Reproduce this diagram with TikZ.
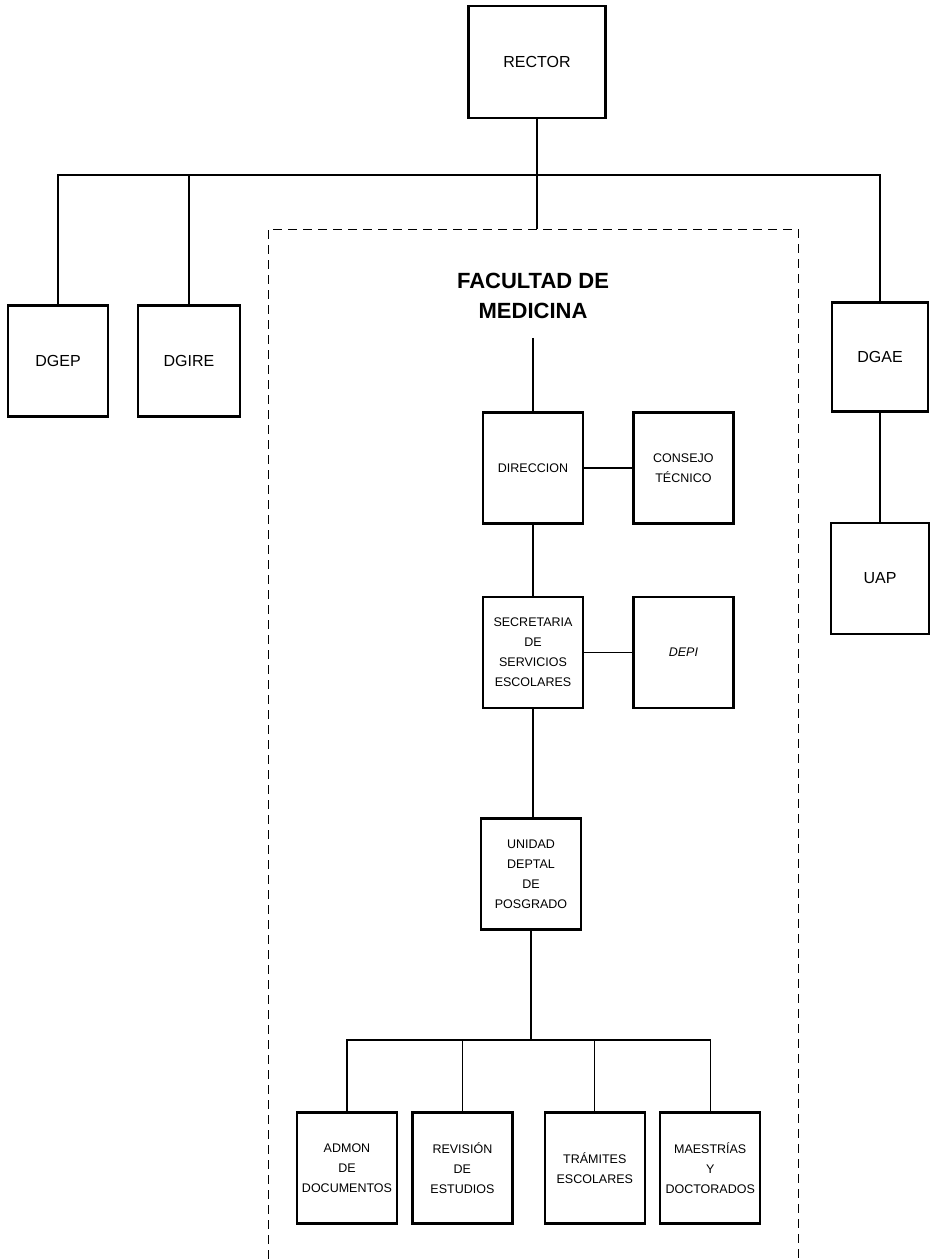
\documentclass[tikz,border=0pt]{standalone}
\usepackage{fontspec}
\setsansfont{Liberation Sans}
\usetikzlibrary{positioning}
\tikzset{
  unit/.style={rectangle, draw, line width=2.4bp, minimum width=100bp,
               minimum height=111bp, inner sep=1bp, align=center,
               font=\sffamily\fontsize{12.5bp}{20bp}\selectfont},
  head/.style={unit, font=\sffamily\fontsize{16bp}{20bp}\selectfont},
  conn/.style={line width=1.3bp},
  frame/.style={line width=0.8bp, dash pattern=on 9bp off 6bp},
}

\begin{document}
\begin{tikzpicture}[
  x=1bp, y=-1bp,
  title/.style={font=\sffamily\bfseries\fontsize{22bp}{30bp}\selectfont, align=center, inner ysep=19bp}
]
  \useasboundingbox (0,0) rectangle (930,1259);
  \draw[frame] (268,1259) -- (268,229) -- (798,229) -- (798,1259);

  \node[head, minimum width=137bp, minimum height=112bp] (rector) at (537,62) {RECTOR};
  \node[head] (dgep) at (58,361) {DGEP};
  \node[head, minimum width=102bp] (dgire) at (189,361) {DGIRE};
  \node[head, minimum width=96bp, minimum height=109bp] (dgae) at (880,357) {DGAE};
  \node[head, minimum width=98bp, below=109bp of dgae] (uap) {UAP};

  \node[title] (fac) at (533,296) {FACULTAD DE\\MEDICINA};
  \node[unit] (direccion) at (533,468) {DIRECCION};
  \node[unit, right=48bp of direccion] (consejo) {CONSEJO\\TÉCNICO};
  \node[unit, below=71bp of direccion] (secretaria) {SECRETARIA\\DE\\SERVICIOS\\ESCOLARES};
  \node[unit, right=48bp of secretaria] (depi) {\itshape DEPI};
  \node[unit, below=108bp of secretaria, xshift=-2bp] (unidad) {UNIDAD\\DEPTAL\\DE\\POSGRADO};

  \node[unit] (admon) at (347,1168) {ADMON\\DE\\DOCUMENTOS};
  \node[unit, right=13bp of admon] (revision) {REVISIÓN\\DE\\ESTUDIOS};
  \node[unit, right=30bp of revision] (tramites) {TRÁMITES\\ESCOLARES};
  \node[unit, right=13bp of tramites] (maestrias) {MAESTRÍAS\\Y\\DOCTORADOS};

  \coordinate (bus) at (537,175);
  \coordinate (frametop) at (537,229);
  \coordinate (rama) at (531,1040);

  \draw[conn] (rector.south) -- (frametop);
  \draw[conn] (dgep.north) |- (bus) -| (dgae.north);
  \draw[conn] (dgire.north) -- (dgire.north |- bus);
  \draw[conn] (dgae) -- (uap);

  \draw[conn] (fac.south -| direccion.north) -- (direccion.north);
  \draw[conn] (direccion) -- (consejo);
  \draw[conn] (direccion) -- (secretaria);
  \draw[conn] (secretaria) -- (depi);
  \draw[conn] (secretaria.south) -- (secretaria.south |- unidad.north);
  \draw[conn] (unidad.south) -- (unidad.south |- rama);
  \draw[conn] (admon.north) |- (rama) -| (maestrias.north);
  \draw[conn] (revision.north) -- (revision.north |- rama);
  \draw[conn] (tramites.north) -- (tramites.north |- rama);
\end{tikzpicture}
\end{document}
